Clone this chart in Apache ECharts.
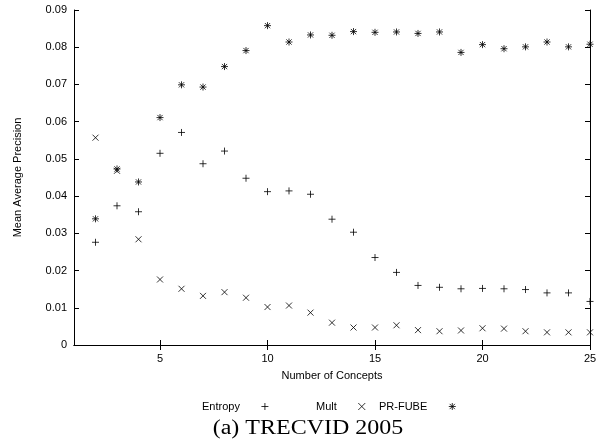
<!DOCTYPE html>
<html>
<head>
<meta charset="utf-8">
<script src="https://cdn.jsdelivr.net/npm/echarts@6/dist/echarts.min.js"></script>
<style>
  html, body { margin: 0; padding: 0; background: #fff; }
  #main { width: 611px; height: 445px; }
</style>
</head>
<body>
<div id="main"></div>
<script>
// number of concepts on the x axis
const concepts = [2, 3, 4, 5, 6, 7, 8, 9, 10, 11, 12, 13, 14, 15, 16, 17, 18, 19, 20, 21, 22, 23, 24, 25];

// mean average precision per method
const entropy = [0.0276, 0.0374, 0.0358, 0.0515, 0.0571, 0.0487, 0.0521, 0.0448, 0.0412, 0.0414, 0.0405, 0.0338,
  0.0303, 0.0235, 0.0195, 0.0160, 0.0155, 0.0151, 0.0152, 0.0151, 0.0149, 0.0140, 0.0140, 0.0117];
const mult = [0.0557, 0.0468, 0.0284, 0.0176, 0.0151, 0.0132, 0.0142, 0.0127, 0.0102, 0.0106, 0.0087, 0.0060,
  0.0047, 0.0047, 0.0053, 0.0040, 0.0037, 0.0039, 0.0045, 0.0044, 0.0037, 0.0034, 0.0034, 0.0034];
const prFube = [0.0339, 0.0473, 0.0438, 0.0611, 0.0699, 0.0693, 0.0748, 0.0791, 0.0858, 0.0814, 0.0833, 0.0832,
  0.0842, 0.0840, 0.0841, 0.0837, 0.0841, 0.0786, 0.0807, 0.0796, 0.0801, 0.0814, 0.0801, 0.0808];

const xTicks = [5, 10, 15, 20, 25];

// gnuplot style point shapes
const plusPath = 'path://M0,4L8,4M4,0L4,8';
const crossPath = 'path://M0,0L8,8M8,0L0,8';
const starPath = 'path://M0,4L8,4M4,0L4,8M1,1L7,7M7,1L1,7';

const font = 'Liberation Sans, Arial, sans-serif';
const pairs = vals => concepts.map((c, i) => [c, vals[i]]);

const chart = echarts.init(document.getElementById('main'));

function mkSeries(name, vals, path, size) {
  return {
    name: name,
    type: 'scatter',
    xAxisIndex: 0,
    yAxisIndex: 0,
    data: pairs(vals),
    symbol: path,
    symbolSize: size,
    itemStyle: { color: 'rgba(0,0,0,0)', borderColor: '#000', borderWidth: 1 },
    emphasis: { disabled: true }
  };
}

function mkLegend(name, icon, left) {
  return {
    left: left,
    top: 396,
    align: 'right',
    itemWidth: 40,
    itemHeight: 7,
    data: [{ name: name, icon: icon }],
    itemStyle: { color: 'rgba(0,0,0,0)', borderColor: '#000', borderWidth: 1 },
    textStyle: { fontFamily: font, fontSize: 11, color: '#000' },
    selectedMode: false
  };
}

const option = {
  animation: false,
  // caption under the figure (wide serif, like the original)
  graphic: [{
    type: 'text',
    x: 308,
    y: 429,
    scaleX: 1.2,
    style: {
      text: '(a) TRECVID 2005',
      fontFamily: 'Liberation Serif, Times New Roman, serif',
      fontSize: 20,
      fill: '#000',
      textAlign: 'center',
      textVerticalAlign: 'middle'
    }
  }],
  legend: [
    mkLegend('Entropy', plusPath, 197),
    mkLegend('Mult', crossPath, 311),
    mkLegend('PR-FUBE', starPath, 374)
  ],
  grid: { left: 74, right: 21, top: 10, bottom: 100 },
  xAxis: [
    {
      type: 'value',
      min: 1,
      max: 25,
      name: 'Number of Concepts',
      nameLocation: 'middle',
      nameGap: 25,
      nameTextStyle: { fontFamily: font, fontSize: 11, color: '#000' },
      axisLine: { lineStyle: { color: '#000', width: 1 } },
      axisTick: { inside: true, length: 5, customValues: xTicks, lineStyle: { color: '#000' } },
      axisLabel: { customValues: xTicks, margin: 8, fontFamily: font, fontSize: 11, color: '#000' },
      splitLine: { show: false }
    },
    {
      type: 'value',
      position: 'top',
      min: 1,
      max: 25,
      axisLine: { lineStyle: { color: '#000', width: 1 } },
      axisTick: { inside: true, length: 5, customValues: xTicks, lineStyle: { color: '#000' } },
      axisLabel: { show: false },
      splitLine: { show: false }
    }
  ],
  yAxis: [
    {
      type: 'value',
      min: 0,
      max: 0.09,
      interval: 0.01,
      name: 'Mean Average Precision',
      nameLocation: 'middle',
      nameGap: 51,
      nameTextStyle: { fontFamily: font, fontSize: 11, color: '#000' },
      axisLine: { show: true, lineStyle: { color: '#000', width: 1 } },
      axisTick: { show: true, inside: true, length: 5, lineStyle: { color: '#000' } },
      axisLabel: {
        margin: 7, fontFamily: font, fontSize: 11, color: '#000',
        formatter: v => (v === 0 ? '0' : v.toFixed(2))
      },
      splitLine: { show: false }
    },
    {
      type: 'value',
      position: 'right',
      min: 0,
      max: 0.09,
      interval: 0.01,
      axisLine: { show: true, lineStyle: { color: '#000', width: 1 } },
      axisTick: { show: true, inside: true, length: 5, lineStyle: { color: '#000' } },
      axisLabel: { show: false },
      splitLine: { show: false }
    }
  ],
  series: [
    mkSeries('Entropy', entropy, plusPath, 7),
    mkSeries('Mult', mult, crossPath, 6),
    mkSeries('PR-FUBE', prFube, starPath, 7)
  ]
};

chart.setOption(option);
</script>
</body>
</html>
